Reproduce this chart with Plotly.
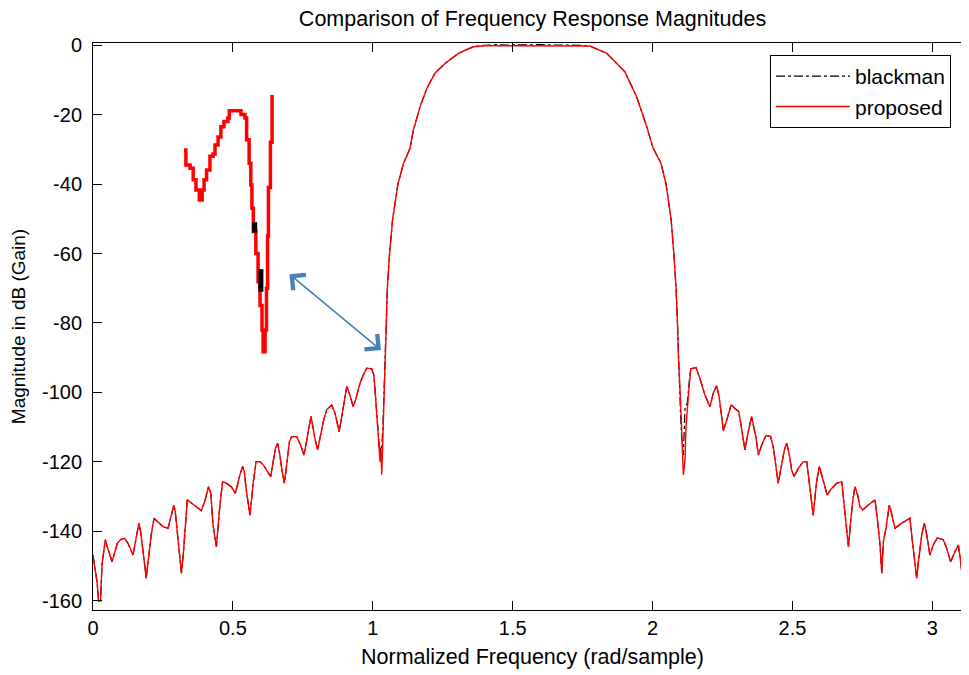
import plotly.graph_objects as go

# ---------------- data ----------------
# left stop band (both windows coincide here)
f_left_stop = [0.000, 0.006, 0.015, 0.020, 0.027, 0.032, 0.038, 0.044, 0.051, 0.068,
               0.087, 0.099, 0.113, 0.125, 0.143, 0.155, 0.164, 0.170, 0.179, 0.187,
               0.190, 0.196, 0.203, 0.208, 0.218, 0.235, 0.250, 0.268, 0.278, 0.289,
               0.294, 0.301, 0.310, 0.316, 0.323, 0.330, 0.337, 0.369, 0.387, 0.399,
               0.413, 0.421, 0.429, 0.441, 0.447, 0.453, 0.463, 0.477, 0.494, 0.509,
               0.519, 0.525, 0.535, 0.541, 0.547, 0.555, 0.561, 0.567, 0.573, 0.583,
               0.597, 0.609, 0.627, 0.635, 0.644, 0.652, 0.660, 0.668, 0.674, 0.684,
               0.692, 0.702, 0.710, 0.728, 0.742, 0.754, 0.764, 0.773, 0.779, 0.785,
               0.793, 0.803, 0.811, 0.823, 0.835, 0.853, 0.865, 0.873, 0.880, 0.889,
               0.901, 0.907, 0.916, 0.924, 0.930, 0.940, 0.954, 0.966, 0.978, 0.996,
               1.004, 1.011]
db_left_stop = [-146.8, -150.1, -154.9, -160.0, -160.0, -149.6, -145.3, -142.4, -144.4, -148.7,
                -143.4, -142.3, -142.0, -143.4, -146.8, -141.5, -137.6, -140.0, -145.3, -151.1,
                -153.5, -149.2, -144.8, -141.0, -136.2, -137.6, -138.6, -139.1, -135.7, -132.4,
                -134.3, -140.5, -146.8, -152.0, -146.3, -139.1, -130.9, -132.9, -134.0, -131.4,
                -127.1, -129.0, -138.1, -144.4, -137.6, -132.9, -125.7, -126.1, -127.1, -129.0,
                -125.7, -123.7, -121.3, -122.8, -127.6, -131.4, -135.3, -130.5, -125.7, -119.9,
                -119.9, -120.9, -123.3, -124.2, -119.9, -116.1, -114.6, -118.0, -121.8, -126.1,
                -120.9, -114.2, -112.7, -112.7, -115.1, -118.0, -113.7, -109.4, -106.9, -109.4,
                -113.2, -116.5, -113.2, -108.4, -105.0, -103.6, -106.0, -109.4, -111.3, -106.9,
                -100.7, -98.3, -100.2, -102.6, -104.1, -101.7, -97.4, -95.0, -93.0, -93.2,
                -95.0, -102.6]

# lower transition band
f_left_edge = [1.016, 1.020, 1.023, 1.026, 1.029, 1.032, 1.036, 1.040, 1.044, 1.047,
               1.052, 1.060, 1.071, 1.090]
proposed_left_edge = [-108.4, -114.6, -118.0, -119.9, -116.5, -123.7, -113.2, -103.1, -89.2, -80.0,
                      -70.0, -60.0, -50.0, -40.0]
blackman_left_edge = [-107.5, -112.5, -116.0, -118.5, -115.5, -116.0, -110.0, -100.0, -89.0, -80.0,
                      -70.0, -60.0, -50.0, -40.0]

# pass band
f_pass = [1.110, 1.133, 1.145, 1.169, 1.193, 1.222, 1.258, 1.306, 1.359, 1.400,
          1.440, 1.480, 1.520, 1.560, 1.600, 1.640, 1.680, 1.705, 1.740, 1.776,
          1.836, 1.901, 1.943, 1.979, 2.002]
proposed_pass = [-34.0, -29.7, -24.5, -17.8, -12.5, -8.1, -5.3, -2.4, -0.5, -0.2,
                 -0.2, -0.3, -0.2, -0.3, -0.2, -0.3, -0.2, -0.2, -0.2, -0.3,
                 -2.4, -7.7, -14.9, -23.5, -29.7]
blackman_pass = [-34.0, -29.7, -24.5, -17.8, -12.5, -8.1, -5.3, -2.4, -0.5, -0.1,
                 0.1, 0.0, 0.1, 0.0, 0.1, 0.0, 0.1, 0.0, -0.1, -0.3,
                 -2.4, -7.7, -14.9, -23.5, -29.7]

# upper transition band
f_right_edge = [2.030, 2.048, 2.066, 2.076, 2.084, 2.089, 2.092, 2.100, 2.104, 2.110,
                2.116, 2.119, 2.124, 2.131]
proposed_right_edge = [-34.0, -40.0, -50.0, -60.0, -70.0, -80.0, -89.2, -102.6, -113.7, -123.7,
                       -119.4, -110.8, -105.0, -96.9]
blackman_right_edge = [-34.0, -40.0, -50.0, -60.0, -70.0, -80.0, -89.0, -106.5, -113.0, -118.0,
                       -104.5, -104.0, -103.0, -96.9]

# right stop band (both windows coincide here)
f_right_stop = [2.136, 2.155, 2.169, 2.187, 2.205, 2.217, 2.229, 2.238, 2.247, 2.253,
                2.265, 2.281, 2.294, 2.308, 2.318, 2.330, 2.342, 2.354, 2.360, 2.370,
                2.378, 2.390, 2.405, 2.422, 2.432, 2.441, 2.449, 2.461, 2.471, 2.479,
                2.489, 2.497, 2.505, 2.521, 2.539, 2.551, 2.557, 2.565, 2.574, 2.580,
                2.586, 2.596, 2.604, 2.616, 2.624, 2.640, 2.658, 2.676, 2.682, 2.688,
                2.700, 2.708, 2.715, 2.723, 2.733, 2.741, 2.751, 2.771, 2.795, 2.803,
                2.813, 2.819, 2.825, 2.834, 2.846, 2.854, 2.866, 2.890, 2.920, 2.926,
                2.932, 2.944, 2.950, 2.962, 2.971, 2.980, 2.991, 3.003, 3.018, 3.039,
                3.051, 3.065, 3.081, 3.093, 3.101, 3.108, 3.116, 3.125, 3.1416]
db_right_stop = [-93.2, -92.8, -95.9, -100.7, -104.1, -100.2, -98.0, -101.4, -107.6, -111.0,
                 -107.9, -103.5, -104.6, -105.5, -110.3, -116.5, -111.3, -106.9, -109.4, -113.2,
                 -118.0, -115.1, -112.4, -112.7, -116.1, -121.8, -126.1, -120.9, -116.5, -114.6,
                 -118.0, -122.3, -124.2, -121.8, -119.9, -119.9, -123.7, -129.5, -135.3, -130.5,
                 -125.7, -121.3, -123.7, -127.6, -129.5, -127.6, -126.1, -125.7, -130.5, -136.2,
                 -144.4, -137.2, -131.4, -127.1, -129.5, -132.9, -133.8, -132.4, -130.9, -136.2,
                 -143.9, -152.0, -142.9, -139.1, -132.4, -134.8, -139.1, -137.6, -136.2, -141.0,
                 -144.8, -153.5, -148.7, -141.0, -137.6, -141.0, -146.8, -143.9, -141.8, -142.4,
                 -144.8, -148.7, -145.8, -143.9, -148.7, -154.4, -160.0, -160.0, -160.0]

# magnified inset of the lower transition band (drawn in the main axes' units)
inset_freq = [0.325, 0.332, 0.347, 0.358, 0.368, 0.380, 0.390, 0.397, 0.406, 0.418,
              0.429, 0.436, 0.447, 0.457, 0.468, 0.482, 0.487, 0.519, 0.529, 0.543,
              0.549, 0.558, 0.564, 0.568, 0.573, 0.582, 0.590, 0.597, 0.604, 0.608,
              0.615, 0.620, 0.624, 0.627, 0.634, 0.640]
inset_db = [-30.2, -34.5, -35.5, -38.8, -41.7, -44.6, -41.7, -38.8, -36.0, -32.0,
            -31.4, -28.8, -26.5, -23.5, -22.0, -21.0, -18.9, -18.9, -20.0, -21.0,
            -27.3, -34.0, -40.3, -47.0, -53.7, -60.0, -68.1, -75.0, -82.0, -88.3,
            -82.0, -70.0, -55.0, -41.0, -28.0, -14.4]
inset_black_freq = [0.578, 0.578, None, 0.600, 0.600]
inset_black_db = [-51.0, -54.0, None, -64.5, -71.0]

# arrow end points (data units)
arrow_tail = (0.697, -65.6)
arrow_head = (1.029, -87.8)

x_ticks = [0, 0.5, 1, 1.5, 2, 2.5, 3]
x_tick_labels = ["0", "0.5", "1", "1.5", "2", "2.5", "3"]
y_ticks = [0, -20, -40, -60, -80, -100, -120, -140, -160]
y_tick_labels = ["0", "-20", "-40", "-60", "-80", "-100", "-120", "-140", "-160"]

# ---------------- assemble series ----------------
freq = f_left_stop + f_left_edge + f_pass + f_right_edge + f_right_stop
proposed_db = db_left_stop + proposed_left_edge + proposed_pass + proposed_right_edge + db_right_stop
blackman_db = db_left_stop + blackman_left_edge + blackman_pass + blackman_right_edge + db_right_stop

FONT = "Liberation Sans, Arial, sans-serif"

fig = go.Figure()
fig.add_trace(go.Scatter(x=freq, y=blackman_db, mode="lines", name="blackman",
                         line=dict(color="black", width=1.2, dash="dashdot")))
fig.add_trace(go.Scatter(x=freq, y=proposed_db, mode="lines", name="proposed",
                         line=dict(color="#ff0000", width=1.4)))
fig.add_trace(go.Scatter(x=inset_freq, y=inset_db, mode="lines", showlegend=False,
                         line=dict(color="#ff0000", width=3.5, shape="hv")))
fig.add_trace(go.Scatter(x=inset_black_freq, y=inset_black_db, mode="lines", showlegend=False,
                         line=dict(color="black", width=5)))

fig.add_annotation(x=arrow_head[0], y=arrow_head[1], ax=arrow_tail[0], ay=arrow_tail[1],
                   xref="x", yref="y", axref="x", ayref="y", text="",
                   showarrow=True, arrowside="end+start", arrowhead=4, startarrowhead=4,
                   arrowsize=2.4, startarrowsize=2.4, arrowwidth=1.6,
                   arrowcolor="#4a7ebb", standoff=0, startstandoff=0)

axis_common = dict(showline=True, linecolor="black", linewidth=1, mirror="ticks",
                   ticks="inside", ticklen=9, tickcolor="black", tickwidth=1,
                   showgrid=False, zeroline=False,
                   tickfont=dict(family=FONT, size=20, color="black"))

# the page body has an 8 px margin, so the figure is sized/offset to compensate
H = 667
fig.update_layout(
    width=964, height=H, autosize=False,
    margin=dict(l=85, r=0, t=35, b=H - 602),
    paper_bgcolor="white", plot_bgcolor="white",
    font=dict(family=FONT, color="black", size=20),
    title=dict(text="Comparison of Frequency Response Magnitudes",
               x=0.5, xref="paper", xanchor="center",
               y=1 - 10 / H, yref="container", yanchor="middle",
               font=dict(family=FONT, size=21.5, color="black")),
    xaxis=dict(range=[0, 3.1416], tickvals=x_ticks, ticktext=x_tick_labels,
               title=dict(text="Normalized Frequency (rad/sample)", standoff=10,
                          font=dict(family=FONT, size=21.5, color="black")),
               **axis_common),
    yaxis=dict(range=[-162.6, 0.58], tickvals=y_ticks, ticktext=y_tick_labels,
               ticklabelstandoff=6,
               title=dict(text="Magnitude in dB (Gain)", standoff=11,
                          font=dict(family=FONT, size=19, color="black")),
               **axis_common),
    legend=dict(x=(762 - 85) / 879, y=(602 - 47) / 567, xanchor="left", yanchor="top",
                bgcolor="white", bordercolor="black", borderwidth=1,
                font=dict(family=FONT, size=21, color="black"),
                itemwidth=74, tracegroupgap=0),
    showlegend=True,
)

fig.write_html("out.html")
